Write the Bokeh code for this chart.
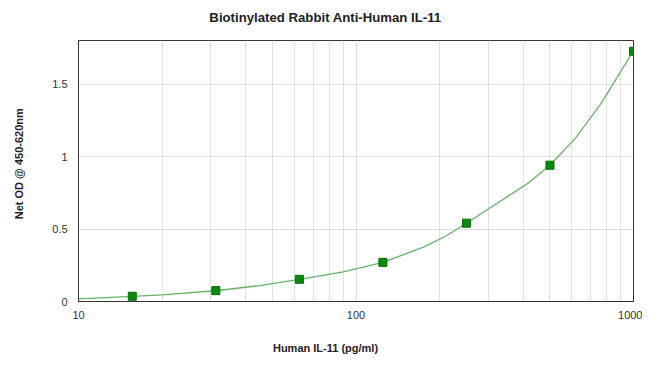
from bokeh.plotting import figure
from bokeh.models import Range1d, FixedTicker
from bokeh.layouts import row, column
from bokeh.core.properties import value
from bokeh.embed import file_html
from bokeh.resources import INLINE
import math

# Standards (pg/ml) and measured OD
conc = [15.625, 31.25, 62.5, 125, 250, 500, 1000]
od = [0.036, 0.075, 0.153, 0.27, 0.54, 0.94, 1.726]

# Fitted curve
curve_x = [10, 15.625, 20, 31.25, 45, 62.5, 90, 125, 175, 210, 250, 330, 420, 500, 620, 760, 870, 1000]
curve_y = [0.018, 0.035, 0.046, 0.074, 0.11, 0.153, 0.205, 0.27, 0.375, 0.45, 0.54, 0.69, 0.82, 0.94, 1.13, 1.36, 1.54, 1.73]

x_ticks = [10, 100, 1000]
x_minor_ticks = [20, 30, 40, 50, 60, 70, 80, 90, 200, 300, 400, 500, 600, 700, 800, 900]
y_ticks = [0, 0.5, 1, 1.5]
y_tick_labels = ["0", "0.5", "1", "1.5"]

title_text = "Biotinylated Rabbit Anti-Human IL-11"
x_title = "Human IL-11 (pg/ml)"
y_title = "Net OD @ 450-620nm"

font = "Liberation Sans"

# overall canvas: 642 x 355
YW = 30            # width of the strip holding the y title
TH, XH = 30, 20    # heights of title strip and x-title strip
MW = 642 - YW      # 612
MH = 355 - TH - XH # 305
FL, FR = 78, 633   # page x of the main frame edges (strip frames align to it)


def strip(w, h, xr, yr):
    f = figure(width=w, height=h, output_backend="svg", toolbar_location=None,
               x_range=Range1d(*xr), y_range=Range1d(*yr),
               x_axis_location=None, y_axis_location=None,
               min_border=0, min_border_left=0, min_border_right=0,
               min_border_top=0, min_border_bottom=0)
    f.grid.visible = False
    f.outline_line_color = None
    f.background_fill_color = "white"
    f.border_fill_color = "white"
    return f


# main plot
p = figure(width=MW, height=MH, x_axis_type="log", output_backend="svg",
           toolbar_location=None,
           x_range=Range1d(10, 1000), y_range=Range1d(0, 1.8),
           min_border_left=FL - YW, min_border_right=642 - FR, min_border_top=10,
           min_border_bottom=34)
p.background_fill_color = "white"
p.border_fill_color = "white"
p.outline_line_color = "#333333"
p.outline_line_width = 1

p.xaxis.ticker = FixedTicker(ticks=x_ticks, minor_ticks=x_minor_ticks)
p.xgrid.grid_line_color = "#dddddd"
p.xgrid.minor_grid_line_color = "#e2e2e2"
p.ygrid.grid_line_color = "#dddddd"
p.yaxis.ticker = FixedTicker(ticks=y_ticks)
p.yaxis.major_label_overrides = {t: l for t, l in zip(y_ticks, y_tick_labels)}
p.xaxis.major_label_overrides = {t: str(t) for t in x_ticks}

for ax in (p.xaxis[0], p.yaxis[0]):
    ax.axis_line_color = "#333333"
    ax.major_tick_line_color = None
    ax.minor_tick_line_color = None
    ax.major_label_text_font = font
    ax.major_label_text_font_size = "11px"
    ax.major_label_text_color = "#333333"
p.xaxis.major_label_standoff = 3
p.yaxis.major_label_standoff = 5

p.line(curve_x, curve_y, line_color="#66b366", line_width=1.3)
p.scatter(conc, od, marker="square", size=8, fill_color="#0a8a0a", line_color="#056b05")

# title strip (above main plot); x in page pixels, y measured up from strip bottom
tf = strip(MW, TH, (FL, FR), (0, TH))
tf.text(x=[325], y=[TH - 17], text=[title_text], text_font=value(font),
        text_font_style="bold", text_font_size="13.2px", text_color="#222222",
        text_align="center", text_baseline="middle")

# x-title strip (below main plot)
xf = strip(MW, XH, (FL, FR), (0, XH))
xf.text(x=[325], y=[8], text=[x_title], text_font=value(font),
        text_font_style="bold", text_font_size="11px", text_color="#222222",
        text_align="center", text_baseline="middle")

# y-title strip (left); y in page pixels measured up from the bottom (frame 40..301)
yf = strip(YW, 355, (0, YW), (355 - 301, 355 - 40))
yf.text(x=[18], y=[355 - 160], text=[y_title], text_font=value(font),
        text_font_style="bold", text_font_size="11px", text_color="#222222",
        text_align="center", text_baseline="middle", angle=math.pi / 2)

layout = row(yf, column(tf, p, xf, spacing=0), spacing=0)

open("out.html", "w").write(file_html(layout, INLINE))
